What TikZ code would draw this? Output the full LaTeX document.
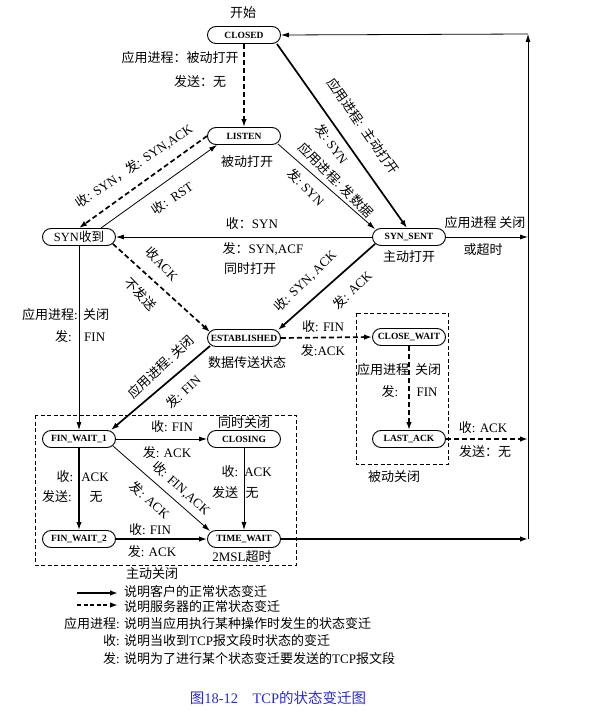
\documentclass[tikz,border=0pt]{standalone}
\usepackage{fontspec}
\setmainfont{Liberation Serif}
\newfontfamily\cjk{Noto Sans CJK SC}
\usetikzlibrary{arrows.meta}
\newcommand\z[1]{{\cjk #1}}
\definecolor{capblue}{RGB}{40,40,215}
\begin{document}
\begin{tikzpicture}[x=1pt,y=-1pt,
  st/.style={draw, line width=0.9pt, rounded corners=8.5pt, minimum width=73pt, minimum height=17pt, inner sep=1pt, font=\fontsize{9.5}{11}\selectfont\bfseries},
  lab/.style={font=\fontsize{13}{15}\selectfont, inner sep=0pt},
  thk/.style={line width=1.7pt, -{Latex[length=8pt,width=5.5pt]}},
  thn/.style={line width=0.8pt, -{Latex[length=8pt,width=5pt]}},
  dsh/.style={dash pattern=on 5pt off 3pt},
  box/.style={line width=0.7pt, dash pattern=on 4pt off 2.5pt}]
\useasboundingbox (0,0) rectangle (599,725);

% states
\node[st] (closed) at (244,35) {CLOSED};
\node[st] (listen) at (244,136) {LISTEN};
\node[st,font=\fontsize{12.5}{14}\selectfont] (synrcvd) at (79,237) {SYN\z{收到}};
\node[st] (synsent) at (409,237) {SYN\_SENT};
\node[st] (estab) at (244,338) {ESTABLISHED};
\node[st] (closewait) at (409,337) {CLOSE\_WAIT};
\node[st] (lastack) at (409,439) {LAST\_ACK};
\node[st] (fw1) at (79,439) {FIN\_WAIT\_1};
\node[st] (closing) at (244,439) {CLOSING};
\node[st] (fw2) at (79,539) {FIN\_WAIT\_2};
\node[st] (timewait) at (244,539) {TIME\_WAIT};

% dashed boxes
\draw[box] (35,415) rectangle (296,565);
\draw[box] (356,313) rectangle (448,464);

% right return line
\coordinate (rt) at (528,34);
\coordinate (rs) at (528,237);
\coordinate (rl) at (528,439);
\coordinate (rb) at (528,539);

% transitions
\draw[thk,dsh] (closed.south) -- (listen.north);
\draw[thk] ([xshift=-4pt]closed.south east) -- ([xshift=-2pt]synsent.north);
\draw[thn] ([xshift=-3pt,yshift=1pt]listen.south east) -- ([xshift=3pt,yshift=-1pt]synsent.north west);
\draw[thk,dsh] (listen.west) -- (synrcvd.north);
\draw[thn] ([xshift=-15pt]synrcvd.north east) -- ([xshift=10pt]listen.south west);
\draw[thn] (synsent.west) -- (synrcvd.east);
\draw[thk,dsh] ([xshift=-3pt,yshift=2pt]synrcvd.south east) -- ([xshift=3pt,yshift=-3pt]estab.north west);
\draw[thk] ([xshift=3pt,yshift=2pt]synsent.south west) -- ([xshift=-3pt,yshift=-1pt]estab.north east);
\draw[thn] (synrcvd.south) -- (fw1.north);
\draw[thk] ([xshift=3pt,yshift=1pt]estab.south west) -- ([xshift=-5pt]fw1.north east);
\draw[thk,dsh] (estab.east) -- (closewait.west);
\draw[thk,dsh] (closewait.south) -- (lastack.north);
\draw[thk,dsh] (lastack.east) -- (rl);
\draw[thn] (fw1.east) -- (closing.west);
\draw[thk] (fw1.south) -- (fw2.north);
\draw[thn] ([xshift=-3pt,yshift=2pt]fw1.south east) -- ([xshift=3pt,yshift=-1pt]timewait.north west);
\draw[thn] (closing.south) -- (timewait.north);
\draw[thk] (fw2.east) -- (timewait.west);
\draw[thk] (timewait.east) -- (rb);
\draw[thn] (synsent.east) -- (rs);
\draw[thn] (rb) -- (rt);
\draw[thn] (rt) -- (closed.east);

% labels
\node[lab] (l0) at (243,13) {\z{开始}};
\node[lab] (l1a) at (180,58) {\z{应用进程：被动打开}};
\node[lab] (l1b) at (200,82) {\z{发送：无}};
\node[lab] (l2) at (247,162) {\z{被动打开}};
\node[lab,rotate=-55] (l3a) at (363,126) {\z{应用进程}:\ \ \z{主动打开}};
\node[lab,rotate=-55] (l3b) at (332,144) {\z{发}:\ SYN};
\node[lab,rotate=-45] (l4a) at (336,180) {\z{应用进程}: \z{发数据}};
\node[lab,rotate=-45] (l4b) at (306,187) {\z{发}:\ SYN};
\node[lab,rotate=34] (l5) at (134,166) {\z{收}: SYN\z{，发}: SYN,ACK};
\node[lab,rotate=34] (l6) at (172,198) {\z{收}:\ \ RST};
\node[lab] (l7a) at (252,224) {\z{收：}SYN};
\node[lab] (l7b) at (263,249) {\z{发：}SYN,ACF};
\node[lab] (l7c) at (250,269) {\z{同时打开}};
\node[lab] (l8) at (409,257) {\z{主动打开}};
\node[lab] (l9a) at (485,223) {\z{应用进程 关闭}};
\node[lab] (l9b) at (483,250) {\z{或超时}};
\node[lab,rotate=-46] (l10a) at (162,264) {\z{收}ACK};
\node[lab,rotate=-46] (l10b) at (141,294) {\z{不发送}};
\node[lab,rotate=44] (l11a) at (305,281) {\z{收}: SYN, ACK};
\node[lab,rotate=44] (l11b) at (352,290) {\z{发}: ACK};
\node[lab,anchor=east] (l12a) at (78,315) {\z{应用进程}:};
\node[lab,anchor=west] (l12b) at (83,315) {\z{关闭}};
\node[lab,anchor=east] (l12c) at (72,337) {\z{发}:};
\node[lab,anchor=west] (l12d) at (84,337) {FIN};
\node[lab] (l13) at (247,363) {\z{数据传送状态}};
\node[lab,rotate=43] (l14a) at (161,367) {\z{应用进程}:\ \z{关闭}};
\node[lab,rotate=43] (l14b) at (183,392) {\z{发}: FIN};
\node[lab] (l15a) at (323,327) {\z{收}: FIN};
\node[lab] (l15b) at (323,351) {\z{发}:ACK};
\node[lab] (l16a) at (383,370) {\z{应用进程}};
\node[lab] (l16b) at (428,370) {\z{关闭}};
\node[lab] (l16c) at (390,392) {\z{发}:};
\node[lab] (l16d) at (427,392) {FIN};
\node[lab] (l17a) at (483,428) {\z{收}: ACK};
\node[lab] (l17b) at (485,452) {\z{发送：无}};
\node[lab] (l18) at (394,477) {\z{被动关闭}};
\node[lab] (l19) at (244,423) {\z{同时关闭}};
\node[lab] (l20a) at (172,427) {\z{收}: FIN};
\node[lab] (l20b) at (167,453) {\z{发}: ACK};
\node[lab] (l21a) at (65,477) {\z{收}:};
\node[lab] (l21b) at (95,477) {ACK};
\node[lab] (l21c) at (57,497) {\z{发送}:};
\node[lab] (l21d) at (96,497) {\z{无}};
\node[lab,rotate=-42] (l22a) at (181,488) {\z{收}: FIN,ACK};
\node[lab,rotate=-42] (l22b) at (150,500) {\z{发}: ACK};
\node[lab] (l23a) at (230,472) {\z{收}:};
\node[lab] (l23b) at (258,472) {ACK};
\node[lab] (l23c) at (225,493) {\z{发送}};
\node[lab] (l23d) at (252,493) {\z{无}};
\node[lab] (l24a) at (150,530) {\z{收}: FIN};
\node[lab] (l24b) at (152,552) {\z{发}: ACK};
\node[lab] (l25) at (242,557) {2MSL\z{超时}};
\node[lab] (l26) at (152,574) {\z{主动关闭}};

% legend
\coordinate (g1a) at (77,593);
\coordinate (g1b) at (118,593);
\coordinate (g2a) at (77,605);
\coordinate (g2b) at (118,605);
\draw[thk] (g1a) -- (g1b);
\draw[thk,dash pattern=on 4pt off 2.5pt] (g2a) -- (g2b);
\node[lab,anchor=west] (t1) at (124,592) {\z{说明客户的正常状态变迁}};
\node[lab,anchor=west] (t2) at (124,607) {\z{说明服务器的正常状态变迁}};
\node[lab,anchor=east] (k3) at (120,624) {\z{应用进程}:};
\node[lab,anchor=west] (t3) at (124,624) {\z{说明当应用执行某种操作时发生的状态变迁}};
\node[lab,anchor=east] (k4) at (120,641) {\z{收}:};
\node[lab,anchor=west] (t4) at (124,641) {\z{说明当收到}TCP\z{报文段时状态的变迁}};
\node[lab,anchor=east] (k5) at (120,659) {\z{发}:};
\node[lab,anchor=west] (t5) at (124,659) {\z{说明为了进行某个状态变迁要发送的}TCP\z{报文段}};
\node[font=\fontsize{14.5}{16}\selectfont, text=capblue, inner sep=0pt] (cap) at (278,698) {\z{图}18-12\quad TCP\z{的状态变迁图}};
\end{tikzpicture}
\end{document}
